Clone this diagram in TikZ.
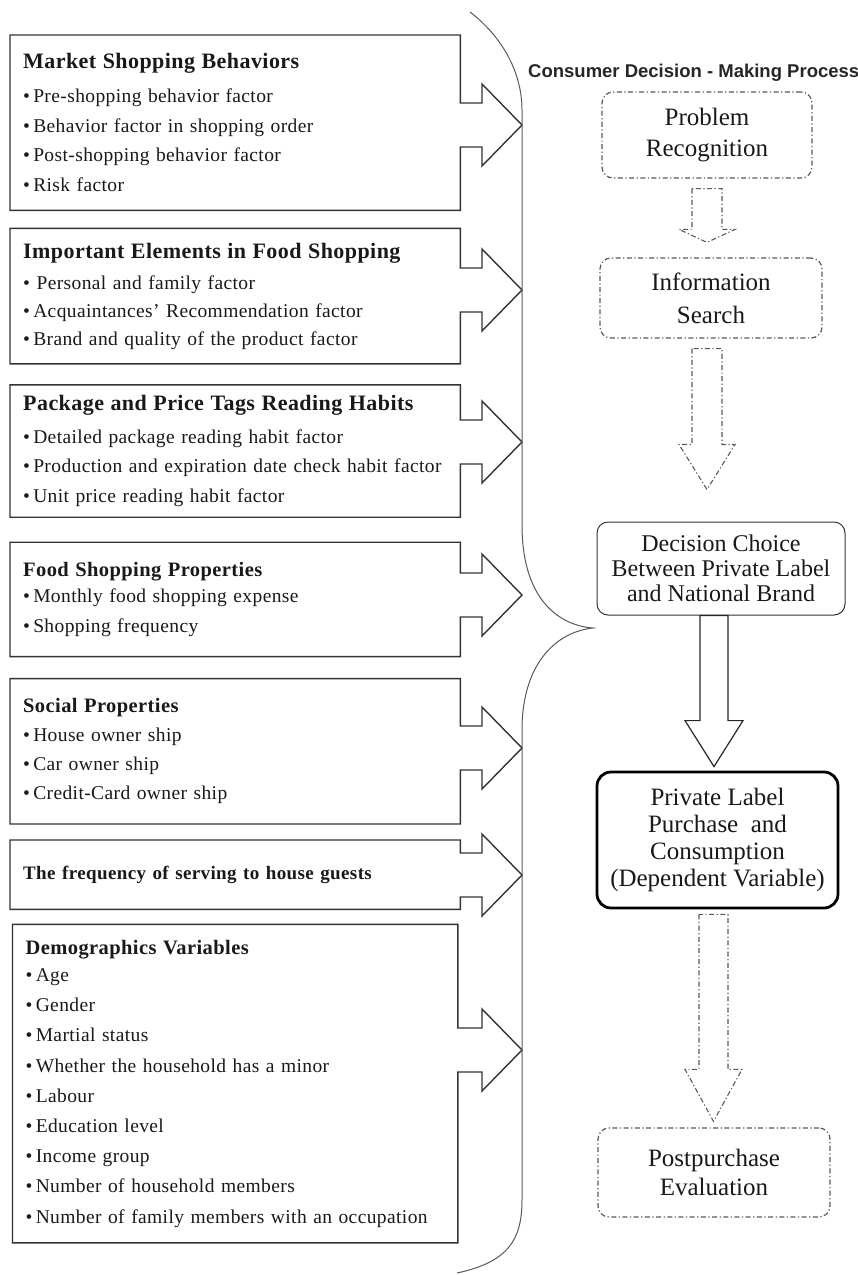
\documentclass[tikz,border=0pt]{standalone}
\usepackage{fontspec}
\setmainfont{Liberation Serif}
\newfontfamily\leftfont[LetterSpace=2]{Liberation Serif}
\newfontfamily\headfont{Liberation Sans}
\usetikzlibrary{positioning,calc}

\begin{document}
\begin{tikzpicture}[x=1pt,y=-1pt,
   every node/.style={text=black!90},
   leftbox/.style={text width=424pt,inner xsep=13pt,inner ysep=2pt,align=left,
     minimum width=450pt,font=\leftfont\fontsize{19.5}{29.5}\selectfont},
   boxline/.style={draw=black!80,line width=1.4pt,line join=miter},
   braceline/.style={draw=black!65,line width=1pt},
   dotline/.style={dash pattern=on 5pt off 2.5pt on 1.2pt off 2.5pt},
   stepnode/.style={align=center,inner sep=2pt,rounded corners=11pt,
     font=\fontsize{25}{31}\selectfont},
   dotbox/.style={stepnode,draw=black!65,line width=1.2pt,dotline},
   solidbox/.style={stepnode,draw=black!80,line width=1pt},
   thickbox/.style={stepnode,draw=black,line width=2.8pt,rounded corners=14pt},
   dotarrow/.style={draw=black!65,line width=1.1pt,dotline},
   solidarrow/.style={draw=black!85,line width=1.2pt},
   blockdown/.style n args={3}{to path={let \p1=(\tikztostart), \p2=(\tikztotarget) in
     (\x1-#1,\y1) -- (\x1-#1,\y2+#3) -- (\x1-#2,\y2+#3) -- (\x1,\y2)
     -- (\x1+#2,\y2+#3) -- (\x1+#1,\y2+#3) -- (\x1+#1,\y1) -- cycle}}]
  \useasboundingbox (0,0) rectangle (858,1275);

  % factor groups on the left
  \node[leftbox,minimum height=175pt,anchor=north west] (msb) at (10,35) {%
    {\bfseries\fontsize{22}{29.5}\selectfont Market Shopping Behaviors}\\[4.5pt]
    \textbullet\,Pre-shopping behavior factor\\
    \textbullet\,Behavior factor in shopping order\\
    \textbullet\,Post-shopping behavior factor\\
    \textbullet\,Risk factor};
  \node[leftbox,minimum height=135pt,font=\leftfont\fontsize{19.5}{28}\selectfont,
    below=18pt of msb] (ief) {%
    {\bfseries\fontsize{22}{28}\selectfont Important Elements in Food Shopping}\\[3pt]
    \textbullet\ Personal and family factor\\
    \textbullet\,Acquaintances’ Recommendation factor\\
    \textbullet\,Brand and quality of the product factor};
  \node[leftbox,minimum height=132pt,below=21pt of ief] (ptr) {%
    {\bfseries\fontsize{22}{29.5}\selectfont Package and Price Tags Reading Habits}\\[3pt]
    \textbullet\,Detailed package reading habit factor\\
    \textbullet\,Production and expiration date check habit factor\\
    \textbullet\,Unit price reading habit factor};
  \node[leftbox,minimum height=114pt,below=25pt of ptr] (fsp) {%
    {\bfseries\fontsize{20.5}{29.5}\selectfont Food Shopping Properties}\\[-3pt]
    \textbullet\,Monthly food shopping expense\\
    \textbullet\,Shopping frequency};
  \node[leftbox,minimum height=145pt,font=\leftfont\fontsize{19.5}{29}\selectfont,
    below=22pt of fsp] (sop) {%
    {\bfseries\fontsize{20.5}{29}\selectfont Social Properties}\\
    \textbullet\,House owner ship\\
    \textbullet\,Car owner ship\\
    \textbullet\,Credit-Card owner ship};
  \node[leftbox,minimum height=69pt,below=16pt of sop] (fsg) {%
    {\bfseries\fontsize{19}{24}\selectfont The frequency of serving to house guests}};
  \node[leftbox,minimum width=445pt,text width=419pt,minimum height=318pt,
    font=\leftfont\fontsize{19.5}{30.2}\selectfont,below=15pt of fsg] (dem) {%
    {\bfseries\fontsize{20.5}{30.2}\selectfont Demographics Variables}\\[-3pt]
    \textbullet\,Age\\
    \textbullet\,Gender\\
    \textbullet\,Martial status\\
    \textbullet\,Whether the household has a minor\\
    \textbullet\,Labour\\
    \textbullet\,Education level\\
    \textbullet\,Income group\\
    \textbullet\,Number of household members\\
    \textbullet\,Number of family members with an occupation};

  % box outlines with their block arrows
  \foreach \bx/\ty in {msb/125,ief/290,ptr/442,fsp/595,sop/748,fsg/875,dem/1050}{
    \coordinate (\bx tip) at (522,\ty);
    \draw[boxline] let \p1=(\bx.east), \p2=(\bx tip) in
      (\bx.north east) -- (\bx.north west) -- (\bx.south west) -- (\bx.south east)
      -- (\x1,\y2-22pt) -- (482,\ty+22) -- (482,\ty+41) -- (\bx tip)
      -- (482,\ty-41) -- (482,\ty-22) -- (\x1,\y2+22pt) -- cycle;
  }

  % brace
  \draw[braceline] (470,12) .. controls (500,35) and (522,70) .. (522,110)
    -- (522,525) .. controls (522,595) and (555,625) .. (593,628)
    .. controls (555,632) and (522,665) .. (522,730)
    -- (522,1200) .. controls (522,1240) and (508,1262) .. (457,1273);

  % decision process on the right
  \node[anchor=base west,inner sep=0pt,text=black!85,
    font=\headfont\bfseries\fontsize{18.5}{22}\selectfont] (cdmp) at (528,77)
    {Consumer Decision - Making Process};
  \node[dotbox,minimum width=210pt,minimum height=86pt] (pr) at (707,135)
    {Problem\\Recognition};
  \node[dotbox,minimum width=222pt,minimum height=80pt,
    font=\fontsize{25}{33}\selectfont] (is) at (711,298) {Information\\Search};
  \node[solidbox,minimum width=248pt,minimum height=93pt,
    font=\fontsize{24}{25}\selectfont] (dc) at (721,568.5)
    {Decision Choice\\Between Private Label\\and National Brand};
  \node[thickbox,minimum width=241pt,minimum height=136pt,
    font=\fontsize{25}{27}\selectfont] (pl) at (717.5,840)
    {Private Label\\Purchase\ \ and\\Consumption\\(Dependent Variable)};
  \node[dotbox,minimum width=232pt,minimum height=89pt,
    font=\fontsize{25}{29}\selectfont] (pp) at (714,1172.5)
    {Postpurchase\\Evaluation};

  \draw[dotarrow] ($(pr.south)+(0,10)$) to[blockdown={15pt}{28pt}{13pt}] ($(is.north)+(0,-15)$);
  \draw[dotarrow] ($(is.south)+(-4,10)$) to[blockdown={15pt}{28pt}{45pt}] ($(dc.north)+(0,-32)$);
  \draw[solidarrow] ($(dc.south)+(-7,0)$) to[blockdown={14pt}{29pt}{46pt}] ($(pl.north)+(0,-4)$);
  \draw[dotarrow] ($(pl.south)+(-4,5)$) to[blockdown={14.5pt}{28.5pt}{52pt}] ($(pp.north)+(0,-6)$);
\end{tikzpicture}
\end{document}
